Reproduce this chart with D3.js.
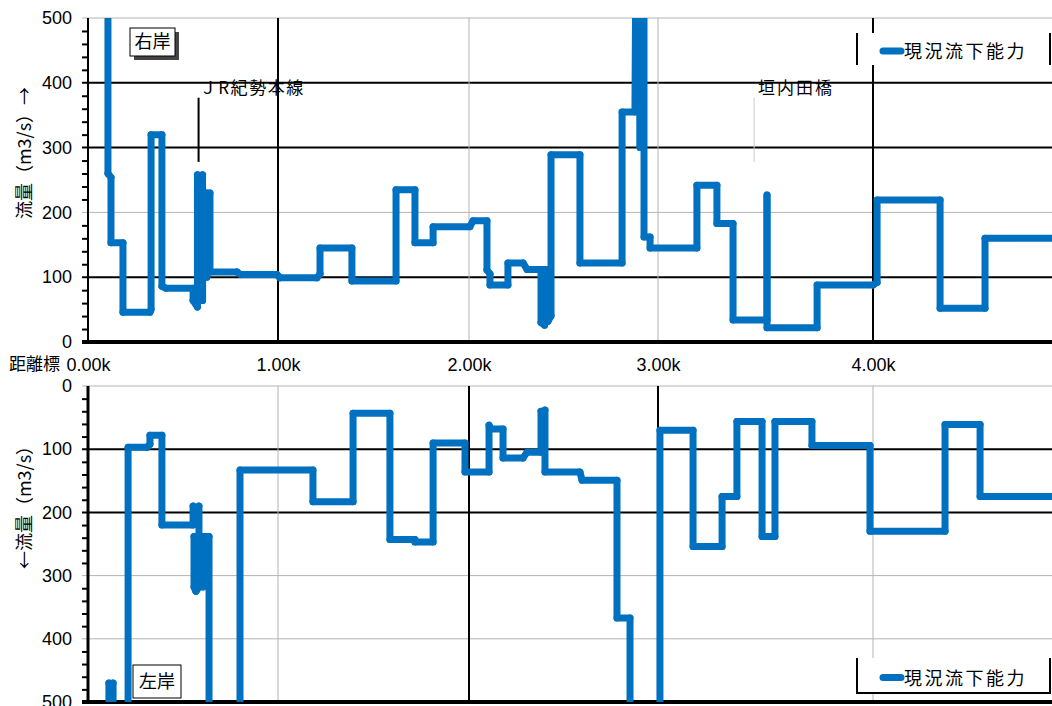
<!DOCTYPE html>
<html><head><meta charset="utf-8">
<script src="https://cdn.jsdelivr.net/npm/d3@7"></script>
<style>
body{margin:0;background:#fff}
svg{display:block}
text{font-family:"Liberation Sans",Arial,"Noto Sans CJK JP",sans-serif;fill:#000}
.jp{font-family:"Noto Sans CJK JP","Liberation Sans",sans-serif}
</style>
</head><body>
<svg id="c" width="1052" height="706"></svg>
<script>
// ---------------- data ----------------
const xTickValues = [0, 1, 2, 3, 4];
const xTickLabels = ["0.00k", "1.00k", "2.00k", "3.00k", "4.00k"];
const yTickValues = [0, 100, 200, 300, 400, 500];
const seriesName = "現況流下能力";
const xAxisTitle = "距離標";
const topTitle = "流量（m3/s）→";
const bottomTitle = "←流量（m3/s）";
const bankLabels = ["右岸", "左岸"];
const landmarkNames = ["ＪR紀勢本線", "垣内田橋"];
const landmarkDist = [0.582, 3.447];

// right bank (top panel): distance (k) / discharge capacity (m3/s)
const rightDist = [
  0.105,0.105,0.121,0.121,0.184,0.184,0.326,0.332,0.332,0.389,
  0.389,0.411,0.553,0.553,0.576,0.576,0.589,0.603,0.603,0.603,
  0.625,0.625,0.642,0.642,0.784,0.805,0.995,1.010,1.204,1.220,
  1.220,1.387,1.387,1.618,1.618,1.717,1.717,1.812,1.812,2.005,
  2.021,2.095,2.095,2.111,2.111,2.206,2.206,2.286,2.307,2.381,
  2.381,2.400,2.400,2.418,2.418,2.434,2.434,2.587,2.587,2.810,
  2.810,2.878,2.884,2.905,2.905,2.905,2.926,2.926,2.958,2.958,
  3.181,3.181,3.274,3.274,3.349,3.349,3.507,3.507,3.507,3.740,
  3.740,4.000,4.019,4.019,4.312,4.312,4.521,4.521,4.900
];
const rightFlow = [
  650,260,254,153,153,46,46,50,320,320,
  86,83,83,64,54,258,248,258,64,100,
  100,230,230,108,108,104,104,99,99,105,
  145,145,94,94,235,235,153,153,178,178,
  187,187,111,105,88,88,122,122,112,112,
  30,26,112,112,32,40,289,289,122,122,
  355,355,650,650,300,650,650,162,162,145,
  145,242,242,183,183,34,34,227,22,22,
  88,88,92,219,219,52,52,160,160
];

// left bank (bottom panel)
const leftDist = [
  0.110,0.110,0.121,0.132,0.132,0.211,0.211,0.311,0.326,0.326,
  0.389,0.389,0.553,0.553,0.568,0.584,0.584,0.568,0.558,0.558,
  0.605,0.605,0.605,0.637,0.637,0.800,0.800,1.183,1.183,1.393,
  1.393,1.586,1.586,1.717,1.717,1.812,1.812,1.979,1.979,2.106,
  2.106,2.116,2.180,2.180,2.286,2.307,2.381,2.381,2.392,2.402,
  2.402,2.587,2.598,2.783,2.783,2.852,2.852,3.009,3.009,3.163,
  3.163,3.298,3.298,3.367,3.367,3.484,3.484,3.544,3.544,3.716,
  3.716,3.986,3.986,4.335,4.335,4.498,4.498,4.900
];
const leftFlow = [
  650,470,480,470,650,650,97,97,92,78,
  78,220,220,190,200,190,318,325,318,238,
  238,318,238,238,650,650,133,133,183,183,
  43,43,243,243,247,247,90,90,136,136,
  62,68,68,114,114,105,105,40,48,38,
  136,136,149,149,367,367,650,650,70,70,
  254,254,175,175,56,56,238,238,56,56,
  94,94,230,230,61,61,175,175
];

// ---------------- drawing ----------------
const BLUE = "#0070C0", GRAY = "#b4b4b4";
const svg = d3.select("#c");
const L = 88, R = 1052;
const x = d3.scaleLinear().domain([0,1,2,3,4,5]).range([88,278,469,658,873,1088]);
const yT = d3.scaleLinear().domain([0,500]).range([342,18]);
const yB = d3.scaleLinear().domain([0,500]).range([386,702]);

const defs = svg.append("defs");
defs.append("clipPath").attr("id","clipT").append("rect")
  .attr("x",L).attr("y",yT(500)).attr("width",R-L).attr("height",yT(0)-yT(500));
defs.append("clipPath").attr("id","clipB").append("rect")
  .attr("x",L).attr("y",yB(0)).attr("width",R-L).attr("height",yB(500)-yB(0));

function panel(y, cfg){
  const g = svg.append("g");
  yTickValues.forEach(v=>{
    const black = cfg.hBlack.includes(v);
    g.append("line").attr("x1",L-6).attr("x2",R).attr("y1",y(v)).attr("y2",y(v))
      .attr("stroke",black?"#000":GRAY).attr("stroke-width",black?2:1);
  });
  xTickValues.slice(1).forEach(v=>{
    const black = cfg.vBlack.includes(v);
    g.append("line").attr("x1",x(v)).attr("x2",x(v)).attr("y1",y(0)).attr("y2",y(500))
      .attr("stroke",black?"#000":GRAY).attr("stroke-width",black?2:1);
  });
  const minor = d3.axisLeft(y).tickValues(d3.range(20,500,20).filter(v=>v%100!==0))
    .tickSize(6).tickFormat("");
  const mg = g.append("g").attr("transform",`translate(${L},0)`).call(minor);
  mg.select(".domain").remove();
  mg.selectAll("line").attr("stroke","#000").attr("stroke-width",2);
  const major = d3.axisLeft(y).tickValues(yTickValues).tickSize(6).tickPadding(10)
    .tickFormat(d3.format("d"));
  const ag = g.append("g").attr("transform",`translate(${L},0)`).call(major);
  ag.select(".domain").remove();
  ag.selectAll("line").remove();
  ag.selectAll("text").attr("font-size",18).attr("fill","#000")
    .attr("font-family","Liberation Sans, Arial, sans-serif");
  g.append("line").attr("x1",L).attr("x2",L).attr("y1",y(0)).attr("y2",y(500))
    .attr("stroke","#000").attr("stroke-width",cfg.leftW);
  g.append("line").attr("x1",L-6).attr("x2",R).attr("y1",y(cfg.baseV)).attr("y2",y(cfg.baseV))
    .attr("stroke","#000").attr("stroke-width",4);
  return g;
}

panel(yT,{hBlack:[100,300,400],vBlack:[1,4],leftW:2,baseV:0});
panel(yB,{hBlack:[100,200],vBlack:[2,3],leftW:3,baseV:500});

// x axis labels (between panels)
const xa = d3.axisBottom(x).tickValues(xTickValues).tickSize(0).tickPadding(16)
  .tickFormat((d,i)=>xTickLabels[i]);
const xg = svg.append("g").attr("transform",`translate(0,${yT(0)})`).call(xa);
xg.select(".domain").remove();
xg.selectAll("text").attr("font-size",18).attr("fill","#000")
  .attr("font-family","Liberation Sans, Arial, sans-serif");
svg.append("text").attr("class","jp").attr("x",60).attr("y",370).attr("text-anchor","end")
  .attr("font-size",17).text(xAxisTitle);

// y titles
svg.append("text").attr("class","jp").attr("transform","translate(31,153) rotate(-90)")
  .attr("text-anchor","middle").attr("font-size",18).text(topTitle);
svg.append("text").attr("class","jp").attr("transform","translate(31,503) rotate(-90)")
  .attr("text-anchor","middle").attr("font-size",18).text(bottomTitle);

// landmarks (top panel)
svg.append("line").attr("x1",x(landmarkDist[0])).attr("x2",x(landmarkDist[0]))
  .attr("y1",yT(377)).attr("y2",yT(278)).attr("stroke","#000").attr("stroke-width",2);
svg.append("line").attr("x1",x(landmarkDist[1])).attr("x2",x(landmarkDist[1]))
  .attr("y1",yT(377)).attr("y2",yT(278)).attr("stroke","#ccc").attr("stroke-width",1);
svg.append("text").attr("class","jp").attr("x",x(landmarkDist[0])+1).attr("y",94)
  .attr("font-size",17).attr("letter-spacing",1.6).text(landmarkNames[0]);
svg.append("text").attr("class","jp").attr("x",x(landmarkDist[1])+4).attr("y",94)
  .attr("font-size",17).attr("letter-spacing",2).text(landmarkNames[1]);

// series lines, drawn as overlapping segments (solid where they stack)
function drawSeries(dist, flow, y, clip){
  const pts = dist.map((d,i)=>[x(d), y(flow[i])]);
  const segs = d3.pairs(pts);
  svg.append("g").attr("clip-path",`url(#${clip})`)
    .selectAll("line").data(segs).join("line")
    .attr("x1",s=>s[0][0]).attr("y1",s=>s[0][1])
    .attr("x2",s=>s[1][0]).attr("y2",s=>s[1][1])
    .attr("stroke",BLUE).attr("stroke-width",7).attr("stroke-linecap","round");
}
drawSeries(rightDist, rightFlow, yT, "clipT");
drawSeries(leftDist, leftFlow, yB, "clipB");

// bank label boxes
function bankBox(bx,by,w,h,label,shadow){
  if(shadow) svg.append("rect").attr("x",bx+4).attr("y",by+4).attr("width",w).attr("height",h).attr("fill","#444");
  svg.append("rect").attr("x",bx).attr("y",by).attr("width",w).attr("height",h)
    .attr("fill","#fff").attr("stroke","#000").attr("stroke-width",1);
  svg.append("text").attr("class","jp").attr("x",bx+w/2).attr("y",by+h/2+6)
    .attr("text-anchor","middle").attr("font-size",18).text(label);
}
bankBox(130,28,45,28,bankLabels[0],true);
bankBox(133,665,48,33,bankLabels[1],false);

// legends
function legend(ly,h,bottomBorder){
  const g = svg.append("g");
  g.append("rect").attr("x",857).attr("y",ly).attr("width",193).attr("height",h).attr("fill","#fff");
  g.append("line").attr("x1",857).attr("x2",857).attr("y1",ly).attr("y2",ly+h).attr("stroke","#000").attr("stroke-width",2);
  g.append("line").attr("x1",1050).attr("x2",1050).attr("y1",ly).attr("y2",ly+h).attr("stroke","#000").attr("stroke-width",2);
  if(bottomBorder) g.append("line").attr("x1",856).attr("x2",1051).attr("y1",ly+h).attr("y2",ly+h).attr("stroke","#000").attr("stroke-width",2);
  const cy = ly + h/2 + 2;
  g.append("line").attr("x1",883).attr("x2",901).attr("y1",cy).attr("y2",cy)
    .attr("stroke",BLUE).attr("stroke-width",7).attr("stroke-linecap","round");
  g.append("text").attr("class","jp").attr("x",904).attr("y",cy+7).attr("font-size",18)
    .attr("letter-spacing",2.5).text(seriesName);
}
legend(33,32,false);
legend(658,35,true);
</script>
</body></html>
